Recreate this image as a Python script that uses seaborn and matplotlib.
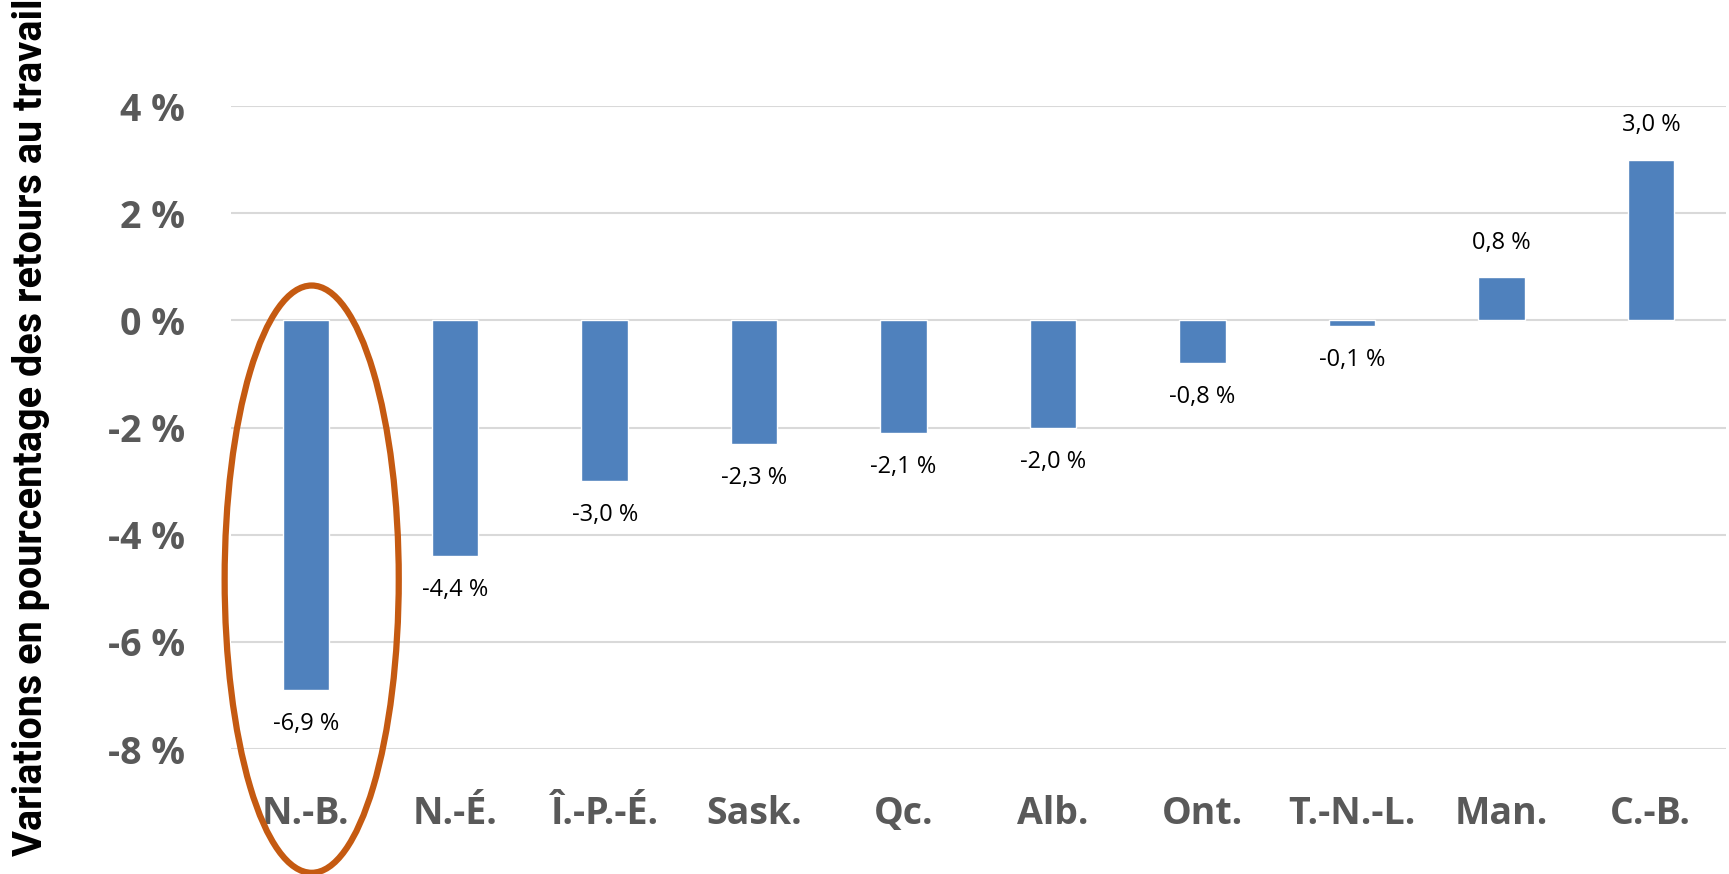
import numpy as np
import pandas as pd
import seaborn as sns
import matplotlib.pyplot as plt
from matplotlib.patches import Ellipse

# data
provinces = ["N.-B.", "N.-É.", "Î.-P.-É.", "Sask.", "Qc.", "Alb.", "Ont.", "T.-N.-L.", "Man.", "C.-B."]
variations = [-6.9, -4.4, -3.0, -2.3, -2.1, -2.0, -0.8, -0.1, 0.8, 3.0]
y_ticks = [-8, -6, -4, -2, 0, 2, 4]

df = pd.DataFrame({"province": provinces, "variation": variations})

sns.set_style("white")
plt.rcParams["font.family"] = ["Open Sans", "DejaVu Sans"]

fig = plt.figure(figsize=(17.29, 8.74), dpi=100)
ax = fig.add_axes([0.1336, 0.143, 0.8644, 0.7357])

sns.barplot(data=df, x="province", y="variation", color="#4F81BD",
            saturation=1, width=0.31, ax=ax)

ax.set_ylim(-8, 4)
ax.set_xlim(-0.5, len(provinces) - 0.5)
ax.set_yticks(y_ticks)
ax.set_yticklabels([f"{t} %" for t in y_ticks])
ax.yaxis.grid(True, color="#D9D9D9", linewidth=1.5)
ax.set_axisbelow(True)
for s in ax.spines.values():
    s.set_visible(False)

ax.tick_params(axis="y", length=0, pad=33, labelsize=27, labelcolor="#595959")
ax.tick_params(axis="x", length=0, pad=33, labelsize=27, labelcolor="#595959")
for lab in ax.get_xticklabels() + ax.get_yticklabels():
    lab.set_fontweight("bold")

ax.set_xlabel("")
ax.set_ylabel("")
fig.text(0.018, 0.511, "Variations en pourcentage des retours au travail",
         family=["Roboto", "DejaVu Sans"], fontsize=28.5, fontweight="bold",
         color="black", rotation=90, ha="center", va="center")

labels = [f"{v:.1f} %".replace(".", ",") for v in variations]
ax.bar_label(ax.containers[0], labels=labels, padding=16, fontsize=17, color="black")

# highlight ring around N.-B.
ring = Ellipse((0.04, -4.83), width=1.165, height=10.96, fill=False,
               edgecolor="#C55A11", linewidth=4.5, clip_on=False)
ax.add_patch(ring)

fig.savefig("out.png", dpi=100)
